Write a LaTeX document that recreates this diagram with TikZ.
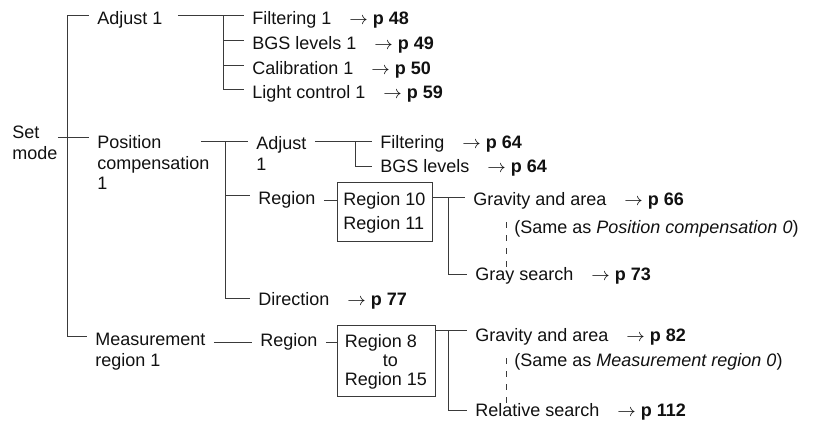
\documentclass[tikz,border=0pt]{standalone}
\usepackage{fontspec}
\setmainfont{Liberation Sans}
\usetikzlibrary{calc}
\definecolor{TreeInk}{HTML}{111111}
\definecolor{TreeLine}{HTML}{3A3A3A}
\newcommand{\seepg}[1]{\quad$\rightarrow$ \textbf{p #1}}
\tikzset{
  menu/.style={inner xsep=4pt, inner ysep=0pt, anchor=base west,
               font=\fontsize{9}{10.3}\selectfont, text=TreeInk},
  menustack/.style={menu, anchor=north west, align=left},
  regionbox/.style={draw=TreeLine, line width=0.5pt, inner sep=0pt,
                    align=left, text=TreeInk},
  branch/.style={draw=TreeLine, line width=0.5pt},
  samedash/.style={branch, dash pattern=on 3pt off 3.5pt, shorten <=6pt},
}
\begin{document}
\begin{tikzpicture}[x=0.5pt, y=-0.5pt]
  \useasboundingbox (0,0) rectangle (819,426);

  % first level
  \node[menustack, inner xsep=0pt] (setmode) at (12,126) {Set\\mode};
  \node[menu] (adj) at (89,25) {Adjust 1};
  \node[menustack] (pos) at (89,135) {Position\\compensation\\1};
  \node[menustack] (meas) at (87,333) {Measurement\\region 1};

  % Adjust 1
  \node[menu] (f1)     at (244,25) {Filtering 1\seepg{48}};
  \node[menu] (bgs1)   at (244,50) {BGS levels 1\seepg{49}};
  \node[menu] (cal1)   at (244,75) {Calibration 1\seepg{50}};
  \node[menu] (light1) at (244,99) {Light control 1\seepg{59}};

  % Position compensation 1
  \node[menustack] (adj2) at (248,136) {Adjust\\1};
  \node[menu] (filt2) at (372,149) {Filtering\seepg{64}};
  \node[menu] (bgs2)  at (372,173) {BGS levels\seepg{64}};
  \node[menu] (reg1)  at (250,205) {Region};
  \node[regionbox, font=\fontsize{9}{12}\selectfont,
        minimum width=47.5pt, minimum height=29.5pt]
        (box1) at (384.5,212.5) {Region 10\\Region 11};
  \node[menu] (grav1) at (465,206) {Gravity and area\seepg{66}};
  \node[menu] (same1) at (506,234) {(Same as \textit{Position compensation 0})};
  \node[menu] (gray)  at (467,281) {Gray search\seepg{73}};
  \node[menu] (dir)   at (250,306) {Direction\seepg{77}};

  % Measurement region 1
  \node[menu] (reg2)  at (252,347) {Region};
  \node[regionbox, font=\fontsize{9}{9.5}\selectfont,
        minimum width=49pt, minimum height=35.5pt]
        (box2) at (386,361.5) {Region 8\\\hspace*{19pt}to\\Region 15};
  \node[menu] (grav2) at (467,342) {Gravity and area\seepg{82}};
  \node[menu] (same2) at (506,367) {(Same as \textit{Measurement region 0})};
  \node[menu] (rel)   at (467,417) {Relative search\seepg{112}};

  % junctions
  \coordinate (jtop)  at (67,16);
  \coordinate (jset)  at (67,138);
  \coordinate (jbot)  at (67,337);
  \coordinate (jadj)  at (223,16);
  \coordinate (jadj2) at (223,41);
  \coordinate (jadj3) at (223,66);
  \coordinate (jadj4) at (223,90);
  \coordinate (jpos)  at (225,142);
  \coordinate (jreg)  at (225,196);
  \coordinate (jdir)  at (225,299);
  \coordinate (jsub)  at (355,142);
  \coordinate (jsub2) at (355,167);
  \coordinate (jgrav) at (448,198);
  \coordinate (jgray) at (448,275);
  \coordinate (jmgrv) at (448,331);
  \coordinate (jrel)  at (448,411);

  \draw[branch] (jtop) -- (jbot);
  \draw[branch] (jtop) -- (jtop -| adj.west);
  \draw[branch] (setmode.east |- jset) -- (jset -| pos.west);
  \draw[branch] (jbot) -- (jbot -| meas.west);

  \draw[branch] ([xshift=3.5pt]adj.east |- jadj) -- (jadj);
  \draw[branch] (jadj) -- (jadj4);
  \foreach \j/\n in {jadj/f1, jadj2/bgs1, jadj3/cal1, jadj4/light1}
    \draw[branch] (\j) -- (\j -| \n.west);

  \draw[branch] ([xshift=-8.5pt]pos.east |- jpos) -- (jpos -| adj2.west);
  \draw[branch] (jpos) -- (jdir) -- (jdir -| dir.west);
  \draw[branch] (jreg) -- (jreg -| reg1.west);

  \draw[branch] (adj2.east |- jsub) -- (jsub -| filt2.west);
  \draw[branch] (jsub) -- (jsub2) -- (jsub2 -| bgs2.west);

  \draw[branch] (reg1.east) -- (reg1.east -| box1.west);
  \draw[branch] (box1.east |- jgrav) -- (jgrav -| grav1.west);
  \draw[branch] (jgrav) -- (jgray) -- (jgray -| gray.west);
  \draw[samedash] (grav1.south -| same1.west) -- (gray.north -| same1.west);

  \draw[branch] (meas.east |- reg2.west) -- (reg2.west);
  \draw[branch] (reg2.east) -- (reg2.east -| box2.west);
  \draw[branch] (box2.east |- jmgrv) -- (jmgrv -| grav2.west);
  \draw[branch] (jmgrv) -- (jrel) -- (jrel -| rel.west);
  \draw[samedash] (grav2.south -| same2.west) -- (rel.north -| same2.west);
\end{tikzpicture}
\end{document}
